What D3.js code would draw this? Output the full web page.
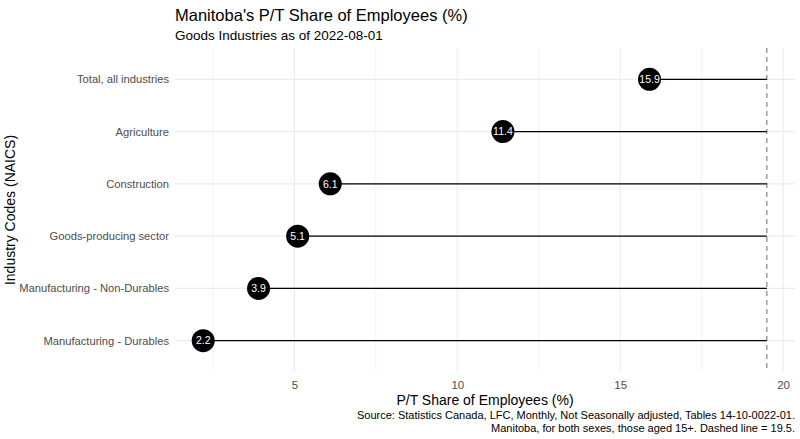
<!DOCTYPE html>
<html>
<head>
<meta charset="utf-8">
<script src="https://cdn.jsdelivr.net/npm/d3@7"></script>
<style>
  html, body { margin: 0; padding: 0; background: #fff; overflow: hidden; }
  svg { display: block; }
  text { font-family: "Liberation Sans", Arial, sans-serif; }
</style>
</head>
<body>
<div id="chart"></div>
<script>
// data
const industries = ["Total, all industries", "Agriculture", "Construction",
  "Goods-producing sector", "Manufacturing - Non-Durables", "Manufacturing - Durables"];
const shares = [15.9, 11.4, 6.1, 5.1, 3.9, 2.2];
const refLine = 19.5;
const xTicks = [5, 10, 15, 20];
const xMinor = [2.5, 7.5, 12.5, 17.5];

const width = 800, height = 439;
const margin = { top: 48, right: 5, bottom: 67, left: 175 };
const innerWidth = width - margin.left - margin.right;
const innerHeight = height - margin.top - margin.bottom;

const svg = d3.select("#chart").append("svg")
  .attr("width", width).attr("height", height);

const g = svg.append("g")
  .attr("transform", `translate(${margin.left},${margin.top})`);

// ggplot-style 5% expansion
const lo = d3.min(shares), hi = refLine;
const pad = (hi - lo) * 0.05;
const xScale = d3.scaleLinear().domain([lo - pad, hi + pad]).range([0, innerWidth]);

const yScale = d3.scalePoint().domain(industries).range([0, innerHeight]).padding(0.6);

// grid
g.selectAll(".minor").data(xMinor).join("line")
  .attr("x1", d => xScale(d)).attr("x2", d => xScale(d))
  .attr("y1", 0).attr("y2", innerHeight)
  .attr("stroke", "#f0f0f0").attr("stroke-width", 0.8);
g.selectAll(".major").data(xTicks).join("line")
  .attr("x1", d => xScale(d)).attr("x2", d => xScale(d))
  .attr("y1", 0).attr("y2", innerHeight)
  .attr("stroke", "#ebebeb").attr("stroke-width", 1.1);
g.selectAll(".hgrid").data(industries).join("line")
  .attr("x1", 0).attr("x2", innerWidth)
  .attr("y1", d => yScale(d)).attr("y2", d => yScale(d))
  .attr("stroke", "#ebebeb").attr("stroke-width", 1.1);

// dashed reference line
g.append("line")
  .attr("x1", xScale(refLine)).attr("x2", xScale(refLine))
  .attr("y1", 0).attr("y2", innerHeight)
  .attr("stroke", "#8c8c8c").attr("stroke-width", 1.3)
  .attr("stroke-dasharray", "5,4");

const rows = industries.map((n, i) => ({ name: n, v: shares[i] }));

// lollipop segments
g.selectAll(".seg").data(rows).join("line")
  .attr("x1", d => xScale(d.v)).attr("x2", xScale(refLine))
  .attr("y1", d => yScale(d.name)).attr("y2", d => yScale(d.name))
  .attr("stroke", "#000").attr("stroke-width", 1.2);

g.selectAll(".dot").data(rows).join("circle")
  .attr("cx", d => xScale(d.v)).attr("cy", d => yScale(d.name))
  .attr("r", 11.5).attr("fill", "#000");

g.selectAll(".lab").data(rows).join("text")
  .attr("x", d => xScale(d.v)).attr("y", d => yScale(d.name))
  .attr("dy", "0.35em").attr("text-anchor", "middle")
  .attr("fill", "#fff").attr("font-size", 10.5)
  .text(d => d.v.toFixed(1));

// axes
const xAxis = g.append("g")
  .attr("transform", `translate(0,${innerHeight})`)
  .call(d3.axisBottom(xScale).tickValues(xTicks).tickSize(0).tickPadding(9));
xAxis.select(".domain").remove();
xAxis.selectAll("text").attr("fill", "#4d4d4d").attr("font-size", 11.5)
  .attr("text-anchor", "middle");

const yAxis = g.append("g")
  .call(d3.axisLeft(yScale).tickSize(0).tickPadding(6));
yAxis.select(".domain").remove();
yAxis.selectAll("text").attr("fill", "#4d4d4d").attr("font-size", 11.2)
  .attr("text-anchor", "end");

// titles
svg.append("text").attr("x", margin.left).attr("y", 21)
  .attr("font-size", 16.5).attr("fill", "#000")
  .text("Manitoba's P/T Share of Employees (%)");
svg.append("text").attr("x", margin.left).attr("y", 40)
  .attr("font-size", 13.5).attr("fill", "#000")
  .text("Goods Industries as of 2022-08-01");

svg.append("text")
  .attr("x", margin.left + innerWidth / 2).attr("y", 405)
  .attr("text-anchor", "middle").attr("font-size", 14).attr("fill", "#000")
  .text("P/T Share of Employees (%)");

svg.append("text")
  .attr("transform", `translate(15,${margin.top + innerHeight / 2}) rotate(-90)`)
  .attr("text-anchor", "middle").attr("font-size", 14).attr("fill", "#000")
  .text("Industry Codes (NAICS)");

const caption = [
  "Source: Statistics Canada, LFC, Monthly, Not Seasonally adjusted, Tables 14-10-0022-01.",
  "Manitoba, for both sexes, those aged 15+. Dashed line = 19.5."
];
svg.selectAll(".cap").data(caption).join("text")
  .attr("x", width - margin.right).attr("y", (d, i) => 419 + i * 13)
  .attr("text-anchor", "end").attr("font-size", 11).attr("fill", "#000")
  .text(d => d);
</script>
</body>
</html>
